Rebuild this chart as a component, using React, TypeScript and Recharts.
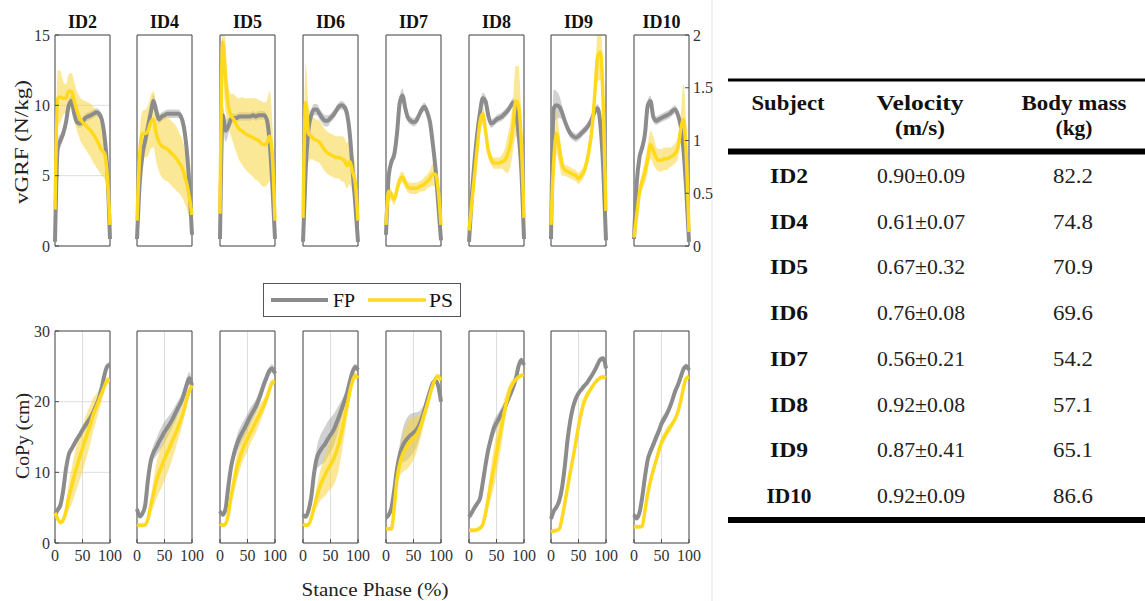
import React from 'react';
import { ComposedChart, Line, Area, XAxis, YAxis, CartesianGrid, ReferenceArea } from 'recharts';

// ---------- data ----------
const stance = [0, 5, 10, 15, 20, 25, 30, 35, 40, 45, 50, 55, 60, 65, 70, 75, 80, 85, 90, 95, 100];
const subjects = ['ID2', 'ID4', 'ID5', 'ID6', 'ID7', 'ID8', 'ID9', 'ID10'];

const grfTicks = [0, 5, 10, 15];
const grfRightTicks = [0, 0.5, 1, 1.5, 2];
const copTicks = [0, 10, 20, 30];
const xTicks = [0, 50, 100];

// vGRF (N/kg)
const grfFP_ID2 = [0.3, 7.0, 7.5, 8.0, 8.8, 10.0, 10.3, 9.4, 8.8, 8.7, 8.8, 9.1, 9.2, 9.3, 9.4, 9.5, 9.4, 9.0, 7.8, 5.5, 0.5];
const grfFPsd_ID2 = [0.3, 0.6, 0.5, 0.4, 0.4, 0.4, 0.4, 0.3, 0.3, 0.3, 0.3, 0.3, 0.3, 0.3, 0.3, 0.3, 0.3, 0.3, 0.4, 0.5, 0.3];
const grfPS_ID2 = [2.6, 10.5, 10.6, 10.5, 10.5, 11.0, 11.0, 10.3, 9.6, 9.1, 8.8, 8.6, 8.4, 8.2, 7.9, 7.6, 7.2, 6.8, 6.6, 5.0, 1.5];
const grfPSsd_ID2 = [1.0, 2.0, 1.8, 1.2, 1.0, 1.2, 1.3, 1.4, 1.4, 1.5, 1.6, 1.7, 1.8, 1.9, 2.0, 2.0, 1.9, 1.8, 1.8, 1.5, 0.8];

const grfFP_ID4 = [0.5, 4.5, 6.5, 7.5, 8.5, 9.5, 10.3, 9.6, 9.0, 9.2, 9.3, 9.4, 9.4, 9.4, 9.4, 9.4, 9.2, 8.5, 7.0, 4.5, 0.8];
const grfFPsd_ID4 = [0.3, 0.6, 0.6, 0.5, 0.5, 0.5, 0.5, 0.4, 0.3, 0.3, 0.3, 0.3, 0.3, 0.3, 0.3, 0.3, 0.3, 0.3, 0.4, 0.4, 0.3];
const grfPS_ID4 = [1.8, 6.5, 8.0, 8.0, 8.2, 8.8, 9.0, 8.0, 7.4, 7.1, 7.0, 6.9, 6.7, 6.5, 6.3, 6.0, 5.7, 5.2, 4.5, 3.5, 2.2];
const grfPSsd_ID4 = [0.8, 1.5, 1.6, 1.7, 1.8, 1.9, 2.0, 2.0, 2.1, 2.2, 2.3, 2.3, 2.3, 2.3, 2.3, 2.2, 2.1, 2.0, 1.8, 1.5, 0.9];

const grfFP_ID5 = [0.5, 9.3, 8.2, 8.5, 9.0, 9.1, 9.1, 9.2, 9.2, 9.2, 9.2, 9.2, 9.3, 9.2, 9.3, 9.3, 9.3, 9.0, 7.5, 4.5, 0.5];
const grfFPsd_ID5 = [0.3, 0.8, 0.8, 0.6, 0.4, 0.3, 0.3, 0.3, 0.3, 0.3, 0.3, 0.3, 0.3, 0.3, 0.3, 0.3, 0.3, 0.3, 0.4, 0.4, 0.3];
const grfPS_ID5 = [2.3, 14.5, 12.0, 10.0, 9.3, 9.0, 8.6, 8.3, 8.2, 8.0, 7.9, 7.8, 7.7, 7.6, 7.5, 7.3, 7.2, 7.3, 7.8, 6.5, 1.8];
const grfPSsd_ID5 = [1.0, 2.5, 2.5, 1.5, 1.5, 1.8, 2.0, 2.2, 2.4, 2.5, 2.6, 2.7, 2.8, 2.9, 2.9, 3.0, 3.0, 3.0, 3.2, 2.5, 1.0];

const grfFP_ID6 = [0.3, 5.5, 8.3, 9.3, 9.7, 9.7, 9.4, 9.1, 8.9, 8.9, 9.1, 9.3, 9.6, 9.9, 10.0, 9.9, 9.4, 8.0, 5.5, 3.0, 0.3];
const grfFPsd_ID6 = [0.3, 0.6, 0.5, 0.4, 0.4, 0.4, 0.4, 0.4, 0.4, 0.4, 0.3, 0.3, 0.3, 0.3, 0.3, 0.3, 0.3, 0.4, 0.4, 0.4, 0.3];
const grfPS_ID6 = [2.0, 10.2, 8.0, 7.8, 7.6, 7.5, 7.4, 7.1, 6.8, 6.6, 6.5, 6.4, 6.3, 6.3, 6.2, 6.1, 5.7, 6.0, 5.3, 4.5, 1.8];
const grfPSsd_ID6 = [1.0, 2.8, 2.0, 1.6, 1.5, 1.5, 1.5, 1.5, 1.5, 1.5, 1.5, 1.5, 1.5, 1.5, 1.6, 1.6, 1.6, 1.6, 1.5, 1.2, 0.8];

const grfFP_ID7 = [0.8, 5.0, 6.0, 6.5, 8.0, 10.2, 10.7, 9.8, 9.1, 8.9, 8.8, 8.9, 9.3, 9.7, 9.9, 9.5, 8.8, 7.3, 5.5, 3.0, 0.4];
const grfFPsd_ID7 = [0.3, 0.5, 0.4, 0.4, 0.4, 0.5, 0.5, 0.4, 0.3, 0.3, 0.3, 0.3, 0.3, 0.3, 0.3, 0.3, 0.3, 0.3, 0.3, 0.3, 0.3];
const grfPS_ID7 = [1.5, 3.9, 3.6, 3.3, 4.0, 4.7, 4.9, 4.5, 4.2, 4.1, 4.1, 4.1, 4.2, 4.3, 4.4, 4.6, 4.8, 5.1, 5.1, 4.0, 1.5];
const grfPSsd_ID7 = [0.3, 0.5, 0.4, 0.4, 0.4, 0.4, 0.4, 0.4, 0.4, 0.4, 0.4, 0.4, 0.4, 0.4, 0.5, 0.5, 0.6, 0.8, 0.9, 0.6, 0.3];

const grfFP_ID8 = [0.3, 3.5, 6.0, 8.0, 9.5, 10.5, 10.3, 9.3, 8.7, 8.8, 9.0, 9.1, 9.2, 9.4, 9.6, 9.9, 10.2, 9.7, 8.0, 5.5, 0.5];
const grfFPsd_ID8 = [0.3, 0.4, 0.4, 0.4, 0.4, 0.4, 0.4, 0.3, 0.3, 0.3, 0.3, 0.3, 0.3, 0.3, 0.3, 0.3, 0.3, 0.3, 0.4, 0.4, 0.3];
const grfPS_ID8 = [1.1, 3.0, 5.0, 7.0, 8.8, 9.4, 8.2, 6.8, 6.2, 5.9, 5.9, 5.9, 6.0, 6.1, 6.5, 7.2, 8.5, 10.3, 10.0, 7.5, 2.0];
const grfPSsd_ID8 = [0.3, 0.6, 0.6, 0.6, 0.6, 0.8, 0.6, 0.5, 0.4, 0.4, 0.4, 0.4, 0.5, 0.8, 1.3, 1.6, 1.8, 2.5, 2.8, 2.0, 0.8];

const grfFP_ID9 = [0.5, 9.8, 10.0, 9.9, 9.5, 8.9, 8.4, 8.0, 7.8, 7.7, 7.8, 8.0, 8.2, 8.4, 8.7, 9.1, 9.6, 9.8, 8.5, 5.5, 0.4];
const grfFPsd_ID9 = [0.3, 1.3, 1.0, 0.8, 0.5, 0.3, 0.3, 0.3, 0.3, 0.3, 0.3, 0.3, 0.3, 0.3, 0.3, 0.3, 0.3, 0.3, 0.4, 0.4, 0.3];
const grfPS_ID9 = [1.5, 6.0, 8.0, 7.0, 5.8, 5.4, 5.3, 5.2, 5.1, 5.0, 4.8, 5.0, 5.3, 6.0, 7.0, 8.5, 11.0, 13.5, 13.8, 10.0, 2.5];
const grfPSsd_ID9 = [0.5, 1.0, 1.5, 1.2, 0.8, 0.4, 0.4, 0.4, 0.4, 0.4, 0.4, 0.4, 0.4, 0.5, 0.7, 0.9, 1.2, 1.8, 2.0, 1.5, 0.8];

const grfFP_ID10 = [0.5, 4.5, 6.3, 7.0, 8.0, 10.0, 10.3, 9.2, 8.9, 9.0, 9.1, 9.2, 9.3, 9.4, 9.6, 9.7, 9.3, 8.5, 6.8, 4.0, 0.3];
const grfFPsd_ID10 = [0.3, 0.5, 0.5, 0.4, 0.4, 0.4, 0.4, 0.3, 0.3, 0.3, 0.3, 0.3, 0.3, 0.3, 0.3, 0.3, 0.3, 0.3, 0.4, 0.4, 0.3];
const grfPS_ID10 = [0.6, 2.2, 3.8, 4.6, 5.3, 6.2, 7.2, 6.8, 6.3, 6.1, 6.1, 6.2, 6.2, 6.3, 6.4, 6.6, 7.0, 8.3, 9.0, 6.5, 1.0];
const grfPSsd_ID10 = [0.3, 0.4, 0.5, 0.6, 0.8, 1.0, 1.0, 1.0, 0.8, 0.8, 0.8, 0.8, 0.8, 0.7, 0.7, 0.7, 0.8, 1.0, 2.5, 2.0, 0.5];

// CoPy (cm)
const copFP_ID2 = [4.0, 4.7, 5.4, 7.5, 10.5, 12.5, 13.3, 14.0, 14.7, 15.3, 16.0, 16.6, 17.2, 17.8, 18.6, 19.5, 20.5, 22.0, 23.8, 25.0, 25.2];
const copFPsd_ID2 = [0.4, 0.4, 0.4, 0.4, 0.5, 0.5, 0.5, 0.5, 0.5, 0.6, 0.6, 0.6, 0.6, 0.6, 0.6, 0.6, 0.5, 0.5, 0.5, 0.5, 0.4];
const copPS_ID2 = [4.3, 3.4, 2.9, 3.3, 4.5, 6.5, 7.9, 9.5, 10.9, 12.2, 13.4, 14.6, 15.8, 17.0, 18.3, 19.2, 20.2, 21.2, 22.2, 23.0, 23.0];
const copPSsd_ID2 = [0.3, 0.3, 0.3, 0.5, 1.0, 1.8, 2.5, 3.0, 3.2, 3.3, 3.3, 3.2, 3.0, 2.7, 2.3, 1.9, 1.5, 1.1, 0.8, 0.5, 0.4];

const copFP_ID4 = [4.8, 3.8, 4.2, 5.4, 9.0, 11.6, 12.8, 13.5, 14.3, 15.0, 15.7, 16.3, 16.9, 17.6, 18.4, 19.2, 19.9, 21.0, 22.3, 23.3, 22.3];
const copFPsd_ID4 = [0.5, 0.4, 0.4, 0.5, 0.7, 0.8, 1.0, 1.2, 1.4, 1.5, 1.5, 1.4, 1.3, 1.2, 1.1, 1.0, 0.9, 0.9, 1.0, 0.9, 0.6];
const copPS_ID4 = [2.6, 2.5, 2.5, 2.6, 3.4, 5.3, 7.0, 8.7, 9.9, 10.9, 11.9, 12.8, 13.7, 14.6, 15.5, 16.5, 17.5, 18.7, 20.2, 21.5, 22.3];
const copPSsd_ID4 = [0.3, 0.3, 0.3, 0.3, 0.5, 1.0, 2.0, 2.5, 2.8, 3.0, 3.0, 3.0, 2.8, 2.5, 2.2, 1.8, 1.5, 1.2, 1.0, 0.6, 0.4];

const copFP_ID5 = [4.5, 4.0, 4.8, 7.9, 10.7, 12.5, 13.8, 14.8, 15.6, 16.3, 17.1, 17.9, 18.6, 19.3, 20.2, 21.3, 22.5, 23.5, 24.4, 24.7, 24.0];
const copFPsd_ID5 = [0.3, 0.3, 0.4, 0.6, 0.8, 1.0, 1.2, 1.3, 1.3, 1.3, 1.2, 1.2, 1.1, 1.0, 1.0, 0.9, 0.8, 0.7, 0.6, 0.6, 0.5];
const copPS_ID5 = [2.7, 2.5, 2.7, 4.0, 6.5, 8.5, 10.4, 11.8, 13.0, 14.0, 14.8, 15.6, 16.3, 17.1, 17.9, 18.7, 19.5, 20.5, 21.7, 22.7, 22.8];
const copPSsd_ID5 = [0.3, 0.3, 0.3, 0.5, 1.0, 1.6, 1.8, 1.8, 1.8, 1.8, 1.8, 1.6, 1.5, 1.5, 1.4, 1.2, 1.0, 0.8, 0.6, 0.5, 0.4];

const copFP_ID6 = [4.0, 3.7, 4.6, 6.5, 9.8, 12.0, 12.9, 13.5, 14.0, 14.7, 15.3, 15.9, 16.8, 17.8, 18.9, 20.0, 21.2, 22.8, 24.2, 24.9, 24.5];
const copFPsd_ID6 = [0.3, 0.3, 0.4, 0.6, 1.0, 1.5, 2.0, 2.3, 2.5, 2.5, 2.4, 2.3, 2.0, 1.7, 1.3, 1.0, 0.8, 0.6, 0.5, 0.5, 0.4];
const copPS_ID6 = [2.7, 2.5, 2.6, 3.5, 5.0, 6.5, 7.8, 8.8, 9.6, 10.4, 11.1, 11.8, 12.8, 14.0, 15.6, 17.5, 19.4, 21.4, 22.9, 23.7, 23.3];
const copPSsd_ID6 = [0.3, 0.3, 0.3, 0.5, 0.8, 1.5, 2.0, 2.5, 3.0, 3.2, 3.5, 3.7, 3.8, 3.6, 3.0, 2.4, 1.8, 1.2, 0.7, 0.5, 0.4];

const copFP_ID7 = [3.6, 4.0, 5.0, 7.5, 10.5, 12.5, 13.7, 14.4, 14.9, 15.3, 15.6, 16.0, 16.6, 17.6, 18.8, 20.2, 21.5, 22.6, 23.0, 22.2, 20.0];
const copFPsd_ID7 = [0.4, 0.4, 0.4, 0.5, 0.8, 1.5, 2.3, 2.8, 3.0, 3.0, 2.8, 2.5, 2.0, 1.5, 1.0, 0.8, 0.5, 0.4, 0.4, 0.4, 0.4];
const copPS_ID7 = [2.0, 2.0, 2.0, 5.0, 9.0, 11.2, 12.5, 13.3, 13.9, 14.4, 14.8, 15.3, 16.0, 17.0, 18.3, 19.6, 21.0, 22.3, 23.3, 23.6, 23.0];
const copPSsd_ID7 = [0.3, 0.3, 0.3, 0.5, 1.0, 1.8, 2.5, 3.0, 3.3, 3.3, 3.0, 2.6, 2.0, 1.5, 1.2, 1.0, 0.8, 0.6, 0.5, 0.4, 0.3];

const copFP_ID8 = [3.7, 4.3, 5.0, 5.6, 6.3, 8.5, 11.0, 13.2, 14.8, 16.2, 17.0, 17.7, 18.5, 19.2, 20.1, 21.0, 22.0, 23.2, 25.0, 25.9, 25.2];
const copFPsd_ID8 = [0.4, 0.4, 0.4, 0.4, 0.5, 0.6, 0.8, 1.0, 1.1, 1.1, 1.0, 0.9, 0.8, 0.7, 0.6, 0.5, 0.5, 0.4, 0.4, 0.4, 0.4];
const copPS_ID8 = [1.8, 1.8, 1.8, 1.9, 2.1, 2.6, 4.2, 6.3, 8.6, 10.6, 12.7, 14.8, 16.8, 18.8, 20.5, 21.8, 22.6, 23.1, 23.5, 23.7, 23.8];
const copPSsd_ID8 = [0.3, 0.3, 0.3, 0.3, 0.3, 0.4, 0.8, 1.5, 2.2, 2.8, 3.0, 2.8, 2.4, 1.8, 1.3, 0.9, 0.6, 0.4, 0.3, 0.3, 0.3];

const copFP_ID9 = [3.4, 4.5, 5.1, 6.0, 7.8, 10.8, 14.5, 17.3, 19.2, 20.4, 21.2, 21.7, 22.2, 22.6, 23.2, 23.8, 24.5, 25.3, 26.0, 26.1, 24.7];
const copFPsd_ID9 = [0.4, 0.4, 0.4, 0.4, 0.4, 0.4, 0.4, 0.4, 0.4, 0.4, 0.4, 0.4, 0.4, 0.4, 0.4, 0.4, 0.4, 0.4, 0.4, 0.4, 0.4];
const copPS_ID9 = [1.6, 1.7, 1.8, 2.0, 3.5, 5.6, 7.8, 10.0, 12.0, 14.2, 16.5, 18.4, 19.9, 20.8, 21.5, 22.1, 22.7, 23.1, 23.4, 23.5, 23.4];
const copPSsd_ID9 = [0.3, 0.3, 0.3, 0.3, 0.3, 0.4, 0.5, 0.6, 0.8, 1.0, 1.2, 1.0, 0.8, 0.6, 0.4, 0.3, 0.3, 0.3, 0.3, 0.3, 0.3];

const copFP_ID10 = [4.0, 3.5, 4.3, 6.5, 9.4, 11.8, 13.0, 13.9, 14.9, 15.8, 16.9, 17.6, 18.3, 19.2, 20.3, 21.5, 22.4, 23.5, 24.6, 25.0, 24.5];
const copFPsd_ID10 = [0.4, 0.4, 0.4, 0.4, 0.5, 0.6, 0.7, 0.8, 0.8, 0.8, 0.8, 0.7, 0.6, 0.5, 0.5, 0.4, 0.4, 0.4, 0.4, 0.4, 0.4];
const copPS_ID10 = [2.3, 2.3, 2.3, 2.4, 4.6, 7.0, 8.8, 10.3, 11.6, 13.0, 14.2, 15.0, 15.7, 16.3, 16.9, 17.6, 18.6, 20.1, 22.0, 23.3, 23.5];
const copPSsd_ID10 = [0.3, 0.3, 0.3, 0.3, 0.4, 0.5, 0.6, 0.7, 0.7, 0.7, 0.7, 0.7, 0.7, 0.6, 0.5, 0.4, 0.3, 0.3, 0.3, 0.3, 0.3];

// table
const tableSubjects = ['ID2', 'ID4', 'ID5', 'ID6', 'ID7', 'ID8', 'ID9', 'ID10'];
const tableVelocity = ['0.90±0.09', '0.61±0.07', '0.67±0.32', '0.76±0.08', '0.56±0.21', '0.92±0.08', '0.87±0.41', '0.92±0.09'];
const tableMass = ['82.2', '74.8', '70.9', '69.6', '54.2', '57.1', '65.1', '86.6'];

const grfSets = [
  [grfFP_ID2, grfFPsd_ID2, grfPS_ID2, grfPSsd_ID2],
  [grfFP_ID4, grfFPsd_ID4, grfPS_ID4, grfPSsd_ID4],
  [grfFP_ID5, grfFPsd_ID5, grfPS_ID5, grfPSsd_ID5],
  [grfFP_ID6, grfFPsd_ID6, grfPS_ID6, grfPSsd_ID6],
  [grfFP_ID7, grfFPsd_ID7, grfPS_ID7, grfPSsd_ID7],
  [grfFP_ID8, grfFPsd_ID8, grfPS_ID8, grfPSsd_ID8],
  [grfFP_ID9, grfFPsd_ID9, grfPS_ID9, grfPSsd_ID9],
  [grfFP_ID10, grfFPsd_ID10, grfPS_ID10, grfPSsd_ID10],
];
const copSets = [
  [copFP_ID2, copFPsd_ID2, copPS_ID2, copPSsd_ID2],
  [copFP_ID4, copFPsd_ID4, copPS_ID4, copPSsd_ID4],
  [copFP_ID5, copFPsd_ID5, copPS_ID5, copPSsd_ID5],
  [copFP_ID6, copFPsd_ID6, copPS_ID6, copPSsd_ID6],
  [copFP_ID7, copFPsd_ID7, copPS_ID7, copPSsd_ID7],
  [copFP_ID8, copFPsd_ID8, copPS_ID8, copPSsd_ID8],
  [copFP_ID9, copFPsd_ID9, copPS_ID9, copPSsd_ID9],
  [copFP_ID10, copFPsd_ID10, copPS_ID10, copPSsd_ID10],
];

// ---------- layout / style ----------
const FONT = '"Liberation Serif", "Times New Roman", serif';
const GRAY = '#8c8c8c';
const GRAY_BAND = '#9a9a9a';
const YELLOW = '#ffd91c';
const YELLOW_BAND = '#f7d640';
const BORDER = '#4d4d4d';
const PANEL_LEFTS = [55, 137, 220, 303, 386, 469, 551, 634];
const PANEL_W = 55;

function buildRows(set: number[][]) {
  const [fp, fpSd, ps, psSd] = set;
  return stance.map((x, i) => ({
    x,
    fp: fp[i],
    fpBand: [fp[i] - fpSd[i], fp[i] + fpSd[i]],
    ps: ps[i],
    psBand: [ps[i] - psSd[i], ps[i] + psSd[i]],
  }));
}

type PanelProps = {
  left: number;
  top: number;
  plotH: number;
  yMax: number;
  yTicks: number[];
  rMax: number;
  rTicks: number[];
  rows: any[];
  showLeft: boolean;
  showRight: boolean;
  showX: boolean;
};

const tickStyle = { fontSize: 16, fill: '#333', fontFamily: FONT };

function Panel({ left, top, plotH, yMax, yTicks, rMax, rTicks, rows, showLeft, showRight, showX }: PanelProps) {
  const side = 32;
  const topM = 10;
  const bottom = showX ? 28 : 10;
  return (
    <div style={{ position: 'absolute', left: left - side, top: top - topM }}>
      <ComposedChart
        width={PANEL_W + 2 * side}
        height={topM + plotH + bottom}
        data={rows}
        margin={{ top: topM, right: 0, bottom: 0, left: 0 }}
        style={{ fontFamily: FONT }}
      >
        <CartesianGrid stroke="#dedede" strokeWidth={1} />
        <XAxis
          dataKey="x"
          type="number"
          domain={[0, 100]}
          ticks={xTicks}
          interval={0}
          height={bottom}
          axisLine={false}
          tickLine={{ stroke: BORDER }}
          tickSize={-4}
          tickMargin={11}
          tick={showX ? tickStyle : false}
        />
        <XAxis
          xAxisId="top"
          orientation="top"
          type="number"
          domain={[0, 100]}
          ticks={[50]}
          height={0}
          axisLine={false}
          tickLine={{ stroke: BORDER }}
          tickSize={-4}
          tick={false}
        />
        <YAxis
          type="number"
          domain={[0, yMax]}
          ticks={yTicks}
          interval={0}
          allowDataOverflow
          width={side}
          axisLine={false}
          tickLine={{ stroke: BORDER }}
          tickSize={-4}
          tickMargin={9}
          tick={showLeft ? tickStyle : false}
        />
        <YAxis
          yAxisId="r"
          orientation="right"
          type="number"
          domain={[0, rMax]}
          ticks={rTicks}
          interval={0}
          allowDataOverflow
          width={side}
          axisLine={false}
          tickLine={{ stroke: BORDER }}
          tickSize={-4}
          tickMargin={8}
          tick={showRight ? tickStyle : false}
        />
        <Area
          dataKey="fpBand"
          type="monotone"
          stroke="none"
          fill={GRAY_BAND}
          fillOpacity={0.45}
          isAnimationActive={false}
          activeDot={false}
        />
        <Line
          dataKey="fp"
          type="monotone"
          stroke={GRAY}
          strokeWidth={4}
          dot={false}
          activeDot={false}
          isAnimationActive={false}
        />
        <Area
          dataKey="psBand"
          type="monotone"
          stroke="none"
          fill={YELLOW_BAND}
          fillOpacity={0.55}
          isAnimationActive={false}
          activeDot={false}
        />
        <Line
          dataKey="ps"
          type="monotone"
          stroke={YELLOW}
          strokeWidth={3.5}
          dot={false}
          activeDot={false}
          isAnimationActive={false}
        />
        <ReferenceArea x1={0} x2={100} y1={0} y2={yMax} fill="none" fillOpacity={0} stroke={BORDER} strokeWidth={1} ifOverflow="visible" />
      </ComposedChart>
    </div>
  );
}

export default function App() {
  const rowBase = 183;
  const rowStep = 45.7;
  return (
    <div style={{ position: 'absolute', left: 0, top: 0, width: 1145, height: 601, background: '#fff', overflow: 'hidden', fontFamily: FONT }}>
      <svg width={1145} height={601} style={{ position: 'absolute', left: 0, top: 0 }} fontFamily={FONT}>
        {/* separator */}
        <line x1={712} y1={0} x2={712} y2={601} stroke="#ececec" strokeWidth={1.5} />
        {/* panel titles */}
        {subjects.map((s, i) => (
          <text
            key={s}
            x={PANEL_LEFTS[i] + PANEL_W / 2}
            y={28}
            textAnchor="middle"
            fontSize={19}
            fontWeight="bold"
            fill="#111"
            textLength={s.length === 4 ? 38 : 29}
            lengthAdjust="spacingAndGlyphs"
          >
            {s}
          </text>
        ))}
        {/* axis labels */}
        <text transform="translate(28,142) rotate(-90)" textAnchor="middle" fontSize={19} fill="#222" textLength={124} lengthAdjust="spacingAndGlyphs">
          vGRF (N/kg)
        </text>
        <text transform="translate(29,436) rotate(-90)" textAnchor="middle" fontSize={19} fill="#222" textLength={86} lengthAdjust="spacingAndGlyphs">
          CoPy (cm)
        </text>
        <text x={375} y={596} textAnchor="middle" fontSize={19} fill="#222" textLength={147} lengthAdjust="spacingAndGlyphs">
          Stance Phase (%)
        </text>
        {/* legend */}
        <rect x={263.5} y={283.5} width={197} height={33} fill="#fff" stroke="#555" strokeWidth={1} />
        <line x1={271} y1={300} x2={328} y2={300} stroke={GRAY} strokeWidth={4} />
        <text x={333} y={307} fontSize={19} fill="#111" textLength={22} lengthAdjust="spacingAndGlyphs">FP</text>
        <line x1={368} y1={300} x2={426} y2={300} stroke={YELLOW} strokeWidth={3.5} />
        <text x={429} y={307} fontSize={19} fill="#111" textLength={24} lengthAdjust="spacingAndGlyphs">PS</text>
        {/* table */}
        <line x1={728} y1={80} x2={1145} y2={80} stroke="#000" strokeWidth={3} />
        <text x={788} y={110} textAnchor="middle" fontSize={20} fontWeight="bold" fill="#111" textLength={73} lengthAdjust="spacingAndGlyphs">Subject</text>
        <text x={920} y={110} textAnchor="middle" fontSize={20} fontWeight="bold" fill="#111" textLength={87} lengthAdjust="spacingAndGlyphs">Velocity</text>
        <text x={920} y={135} textAnchor="middle" fontSize={20} fontWeight="bold" fill="#111" textLength={50} lengthAdjust="spacingAndGlyphs">(m/s)</text>
        <text x={1074} y={110} textAnchor="middle" fontSize={20} fontWeight="bold" fill="#111" textLength={105} lengthAdjust="spacingAndGlyphs">Body mass</text>
        <text x={1074} y={135} textAnchor="middle" fontSize={20} fontWeight="bold" fill="#111" textLength={37} lengthAdjust="spacingAndGlyphs">(kg)</text>
        <line x1={728} y1={151.5} x2={1145} y2={151.5} stroke="#000" strokeWidth={6} />
        {tableSubjects.map((s, i) => (
          <g key={s}>
            <text x={789} y={rowBase + i * rowStep} textAnchor="middle" fontSize={20} fontWeight="bold" fill="#111" textLength={s.length === 4 ? 45 : 38} lengthAdjust="spacingAndGlyphs">{s}</text>
            <text x={921} y={rowBase + i * rowStep} textAnchor="middle" fontSize={20} fill="#222" textLength={88} lengthAdjust="spacingAndGlyphs">{tableVelocity[i]}</text>
            <text x={1073} y={rowBase + i * rowStep} textAnchor="middle" fontSize={20} fill="#222" textLength={40} lengthAdjust="spacingAndGlyphs">{tableMass[i]}</text>
          </g>
        ))}
        <line x1={728} y1={520} x2={1145} y2={520} stroke="#000" strokeWidth={6} />
      </svg>
      {subjects.map((s, i) => (
        <Panel
          key={'grf' + s}
          left={PANEL_LEFTS[i]}
          top={35}
          plotH={211}
          yMax={15}
          yTicks={grfTicks}
          rMax={2}
          rTicks={i === subjects.length - 1 ? grfRightTicks : [0.5, 1, 1.5]}
          rows={buildRows(grfSets[i])}
          showLeft={i === 0}
          showRight={i === subjects.length - 1}
          showX={false}
        />
      ))}
      {subjects.map((s, i) => (
        <Panel
          key={'cop' + s}
          left={PANEL_LEFTS[i]}
          top={331}
          plotH={212}
          yMax={30}
          yTicks={copTicks}
          rMax={30}
          rTicks={[10, 20]}
          rows={buildRows(copSets[i])}
          showLeft={i === 0}
          showRight={false}
          showX={true}
        />
      ))}
    </div>
  );
}
